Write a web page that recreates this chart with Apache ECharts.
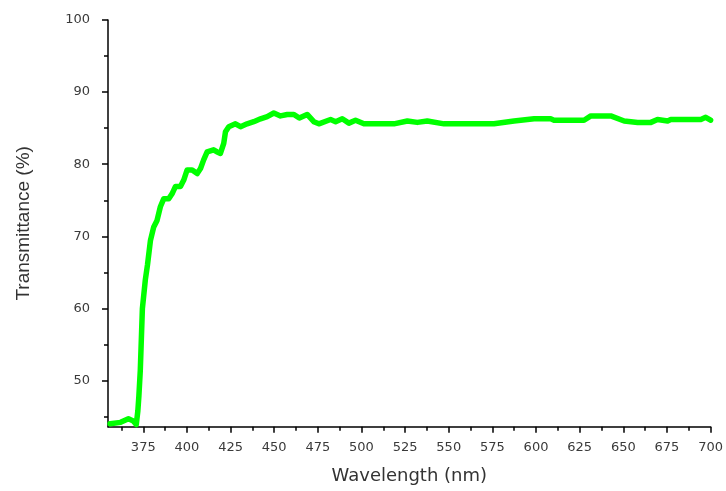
<!DOCTYPE html>
<html>
<head>
<meta charset="utf-8">
<script src="https://cdn.jsdelivr.net/npm/echarts@6/dist/echarts.min.js"></script>
<style>html,body{margin:0;padding:0;background:#fff;}#c{width:726px;height:491px;}</style>
</head>
<body>
<div id="c"></div>
<script>
const wavelength = [356, 362, 366.5, 369.3, 371, 371.9, 372.5, 373.3, 374.5, 376.2, 377.4, 379.1, 381.0, 382.9, 384.8, 386.7, 389.6, 391.5, 393.4, 396.3, 398.2, 400.1, 403.0, 405.9, 407.8, 409.6, 411.6, 415.3, 417.3, 419.2, 421.1, 422.1, 424.0, 427.8, 430.7, 434.5, 438.3, 442.2, 446.0, 449.8, 453.6, 457.5, 461.3, 464.4, 468.9, 472.7, 475.6, 482.3, 485.2, 489.0, 492.8, 496.6, 501.4, 518.6, 526.3, 532.0, 537.7, 547.3, 575.9, 587.4, 598.9, 608.4, 610.3, 627.5, 631.4, 642.8, 650.5, 658.2, 665.8, 669.6, 675.4, 677.2, 694.4, 697.2, 700];
const transmittance = [44.0, 44.2, 44.7, 44.4, 43.9, 45.8, 47.9, 51.4, 60.0, 64.0, 66.0, 69.4, 71.3, 72.2, 74.1, 75.2, 75.2, 75.9, 76.9, 76.9, 77.8, 79.2, 79.2, 78.7, 79.4, 80.6, 81.7, 82.0, 81.7, 81.5, 82.9, 84.5, 85.2, 85.6, 85.2, 85.6, 85.9, 86.3, 86.6, 87.1, 86.7, 86.9, 86.9, 86.4, 86.9, 85.9, 85.6, 86.2, 85.9, 86.3, 85.7, 86.1, 85.6, 85.6, 86.0, 85.8, 86.0, 85.6, 85.6, 86.0, 86.3, 86.3, 86.1, 86.1, 86.7, 86.7, 86.0, 85.8, 85.8, 86.2, 86.0, 86.2, 86.2, 86.5, 86.1];
const xMajorTicks = [375, 400, 425, 450, 475, 500, 525, 550, 575, 600, 625, 650, 675, 700];
const xMinorTicks = [362.5, 387.5, 412.5, 437.5, 462.5, 487.5, 512.5, 537.5, 562.5, 587.5, 612.5, 637.5, 662.5, 687.5];
const yMajorTicks = [50, 60, 70, 80, 90, 100];
const yMinorTicks = [45, 55, 65, 75, 85, 95];
const xName = 'Wavelength (nm)';
const yName = 'Transmittance (%)';

const X_MIN = 354.8, X_MAX = 700, Y_MIN = 43.6, Y_MAX = 100;
const labelStyle = {color: '#3a3a3a', fontFamily: 'DejaVu Sans', fontSize: 13};
const lineStyle = {color: '#000', width: 1.5};

const chart = echarts.init(document.getElementById('c'), null, {renderer: 'canvas'});
chart.setOption({
  animation: false,
  backgroundColor: '#fff',
  grid: {left: 108, right: 14.3, top: 20, bottom: 64.3, containLabel: false},
  xAxis: [{
    type: 'value', min: X_MIN, max: X_MAX, position: 'bottom',
    axisLine: {show: true, onZero: false, lineStyle: lineStyle},
    axisTick: {show: true, inside: false, length: 6, customValues: xMajorTicks, lineStyle: lineStyle},
    axisLabel: Object.assign({show: true, margin: 14, customValues: xMajorTicks}, labelStyle),
    splitLine: {show: false},
    name: xName, nameLocation: 'middle', nameGap: 41,
    nameTextStyle: {color: '#333', fontFamily: 'DejaVu Sans', fontSize: 18}
  }, {
    type: 'value', min: X_MIN, max: X_MAX, position: 'bottom',
    axisLine: {show: false},
    axisTick: {show: true, inside: false, length: 4, customValues: xMinorTicks, lineStyle: lineStyle},
    axisLabel: {show: false},
    splitLine: {show: false}
  }],
  yAxis: [{
    type: 'value', min: Y_MIN, max: Y_MAX, position: 'left',
    axisLine: {show: true, onZero: false, lineStyle: lineStyle},
    axisTick: {show: true, inside: false, length: 6, customValues: yMajorTicks, lineStyle: lineStyle},
    axisLabel: Object.assign({show: true, margin: 18, customValues: yMajorTicks}, labelStyle),
    splitLine: {show: false},
    name: yName, nameLocation: 'middle', nameGap: 75, nameRotate: 90,
    nameTextStyle: {color: '#333', fontFamily: 'Liberation Sans', fontSize: 19}
  }, {
    type: 'value', min: Y_MIN, max: Y_MAX, position: 'left',
    axisLine: {show: false},
    axisTick: {show: true, inside: false, length: 4, customValues: yMinorTicks, lineStyle: lineStyle},
    axisLabel: {show: false},
    splitLine: {show: false}
  }],
  series: [{
    type: 'line',
    xAxisIndex: 0, yAxisIndex: 0,
    data: wavelength.map((w, i) => [w, transmittance[i]]),
    showSymbol: false,
    symbol: 'none',
    clip: false,
    lineStyle: {color: '#00ff00', width: 5.5, join: 'round', cap: 'round'},
    z: 1
  }]
});
</script>
</body>
</html>
